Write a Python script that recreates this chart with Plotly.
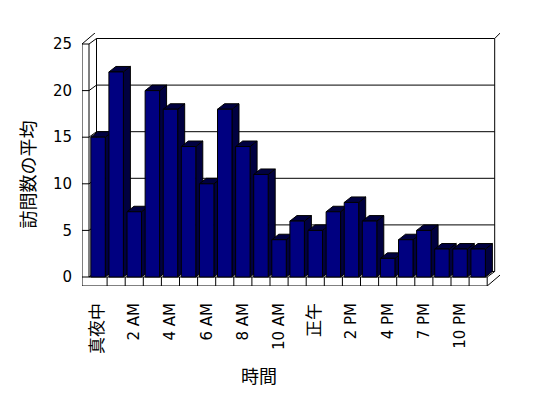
import plotly.graph_objects as go

# ---------------- data ----------------
categories = ["真夜中", "1 AM", "2 AM", "3 AM", "4 AM", "5 AM", "6 AM", "7 AM",
              "8 AM", "9 AM", "10 AM", "11 AM", "正午", "1 PM", "2 PM", "3 PM",
              "4 PM", "5 PM", "7 PM", "8 PM", "10 PM", "11 PM"]
visits = [15, 22, 7, 20, 18, 14, 10, 18, 14, 11, 4, 6, 5, 7, 8, 6, 2, 4, 5, 3, 3, 3]
tick_labels = categories[::2]
y_ticks = [0, 5, 10, 15, 20, 25]
y_title = "訪問数の平均"
x_title = "時間"

# ---------------- layout geometry ----------------
BODY = 8                               # default page body margin
WF, HF = 548 - 2 * BODY, 398 - 2 * BODY
L, R, T, B = 82, 500, 33, 286          # plot area in window pixels
PX_X, PX_Y = 18.1, 9.32                # pixels per category / per unit
FLOOR_PX = 9                           # floor slab thickness

def dx(px):
    return px / PX_X

def dy(px):
    return px / PX_Y

n = len(visits)
x0, x1 = -0.5, n - 0.5
ymax = y_ticks[-1]
wt = dx(7)            # left wall thickness
ft = dy(FLOOR_PX)     # floor thickness
bx1, by1 = dx(7.5), dy(5.5)    # back wall inner plane offset
bx2, by2 = dx(13.5), dy(11.5)  # back wall outer plane offset
bdx, bdy = dx(7), dy(5.5)      # bar depth
bw = 0.8

x_lo = x0 - wt
x_hi = x_lo + (R - L) / PX_X
y_lo = -ft
y_hi = y_lo + (B - T) / PX_Y

LINE = dict(color="black", width=1)
shapes = []

def path(pts):
    d = "M " + " L ".join(f"{px:.4f},{py:.4f}" for px, py in pts)
    shapes.append(dict(type="path", path=d, xref="x", yref="y",
                       line=LINE, layer="below"))

# back wall inner face
shapes.append(dict(type="rect", xref="x", yref="y", x0=x0 + bx1, x1=x1 + bx1,
                   y0=by1, y1=ymax + by1, line=LINE, fillcolor="white", layer="below"))
# gridlines on back wall and left wall
for v in y_ticks[1:-1]:
    path([(x0 - wt, v), (x0, v), (x0 + bx1, v + by1), (x1 + bx1, v + by1)])
path([(x0, 0), (x0 + bx1, by1)])
# left wall and outer back wall
path([(x0 - wt, -ft), (x0 - wt, ymax), (x0, ymax), (x0, 0)])
path([(x0 - wt, ymax), (x0 - wt + bx2, ymax + by2), (x1 + bx2, ymax + by2),
      (x1 + bx2, -ft + by2), (x1, -ft)])
path([(x0, ymax), (x0 + bx1, ymax + by1)])
path([(x1 + bx1, ymax + by1), (x1 + bx2, ymax + by2)])
# floor front face
path([(x0 - wt, 0), (x1, 0), (x1, -ft), (x0 - wt, -ft)])
path([(x1, 0), (x1 + bx1, by1)])
for k in range(1, n):
    path([(x0 + k, -ft), (x0 + k, 0)])

# ---------------- 3D faces of the bars ----------------
side_x, side_y, top_x, top_y = [], [], [], []
for i, v in enumerate(visits):
    xl, xr = i - bw / 2, i + bw / 2
    side_x += [xr, xr + bdx, xr + bdx, xr, xr, None]
    side_y += [0, bdy, v + bdy, v, 0, None]
    top_x += [xl, xl + bdx, xr + bdx, xr, xl, None]
    top_y += [v, v + bdy, v + bdy, v, v, None]

fig = go.Figure()
fig.add_trace(go.Scatter(x=side_x, y=side_y, mode="lines", fill="toself",
                         fillcolor="#000040", line=LINE, hoverinfo="skip",
                         showlegend=False))
fig.add_trace(go.Scatter(x=top_x, y=top_y, mode="lines", fill="toself",
                         fillcolor="#000040", line=LINE, hoverinfo="skip",
                         showlegend=False))
fig.add_trace(go.Bar(x=list(range(n)), y=visits, width=bw, xaxis="x2", yaxis="y2",
                     marker=dict(color="#000080", line=LINE),
                     hovertext=categories, showlegend=False))

tick_font = dict(family="DejaVu Sans, Noto Sans CJK JP", size=15, color="black")

def fmt(t):
    if t.isascii():
        return t
    return f'<span style="font-size:17px;color:black;font-family:Noto Sans CJK JP">{t}</span>'

fig.update_layout(
    width=WF, height=HF,
    margin=dict(l=L - BODY, r=WF - (R - BODY), t=T - BODY, b=HF - (B - BODY), pad=0),
    paper_bgcolor="white", plot_bgcolor="white",
    shapes=shapes,
    xaxis=dict(range=[x_lo, x_hi], tickmode="array",
               tickvals=list(range(0, n, 2)), ticktext=[fmt(t) for t in tick_labels],
               tickangle=-90, ticks="outside", ticklen=10, tickcolor="rgba(0,0,0,0)",
               showgrid=False, zeroline=False, showline=False, tickfont=tick_font),
    yaxis=dict(range=[y_lo, y_hi], tickmode="array", tickvals=y_ticks,
               ticks="outside", ticklen=6, tickcolor="rgba(0,0,0,0)",
               showgrid=False, zeroline=False, showline=False, tickfont=tick_font),
    xaxis2=dict(range=[x_lo, x_hi], overlaying="x", visible=False),
    yaxis2=dict(range=[y_lo, y_hi], overlaying="y", visible=False),
    annotations=[
        dict(text=y_title, xref="paper", yref="paper",
             x=(26.5 - L) / (R - L), y=(B - 175) / (B - T),
             xanchor="center", yanchor="middle", textangle=-90, showarrow=False,
             font=dict(family="Noto Sans CJK JP", size=18, color="black")),
        dict(text=x_title, xref="paper", yref="paper",
             x=(258.5 - L) / (R - L), y=(B - 375) / (B - T),
             xanchor="center", yanchor="middle", showarrow=False,
             font=dict(family="Noto Sans CJK JP", size=18, color="black")),
    ],
)

fig.write_html("out.html")
